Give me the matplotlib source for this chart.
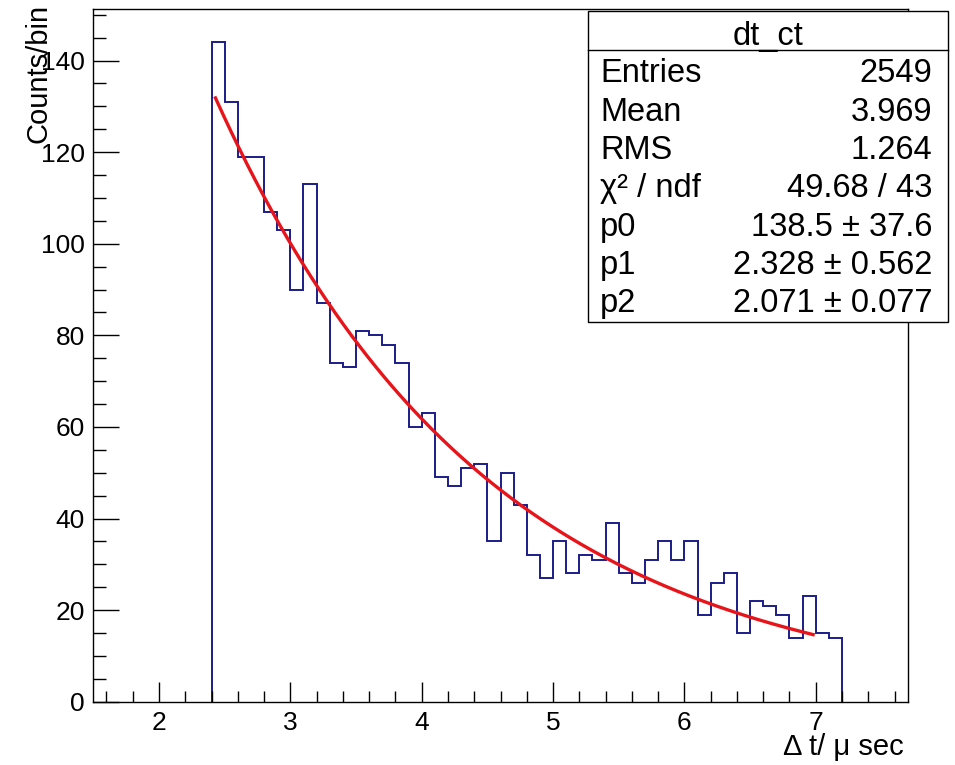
import numpy as np
import matplotlib
matplotlib.use("Agg")
import matplotlib.pyplot as plt
from matplotlib.ticker import MultipleLocator

plt.rcParams['font.family'] = ['Liberation Sans', 'DejaVu Sans']

# histogram dt_ct : 48 bins of 0.1 from 2.4
bin_lo = 2.4
bin_width = 0.1
counts = [144, 131, 119, 119, 107, 103, 90, 113, 87, 74,
          73, 81, 80, 78, 74, 60, 63, 49, 47, 51,
          52, 35, 50, 43, 32, 27, 35, 28, 32, 31,
          39, 28, 26, 31, 35, 31, 35, 19, 26, 28,
          15, 22, 21, 19, 14, 23, 15, 14]

# fit  p0*exp(-(x-p1)/p2)
p0, p1, p2 = 138.5, 2.328, 2.071
fit_lo, fit_hi = 2.43, 6.98

stat_names = ["Entries", "Mean", "RMS", "χ² / ndf", "p0", "p1", "p2"]
stat_values = ["2549", "3.969", "1.264", "49.68 / 43",
               "138.5 ± 37.6", "2.328 ± 0.562", "2.071 ± 0.077"]

W, H = 955, 765
fig = plt.figure(figsize=(W / 100, H / 100), dpi=100)
ax = fig.add_axes([93.3 / W, 63.3 / H, 814.4 / W, 692.4 / H])

edges = bin_lo + bin_width * np.arange(len(counts) + 1)
ax.stairs(counts, edges, baseline=0, color="#1c1c8a", lw=1.4)

xf = np.linspace(fit_lo, fit_hi, 300)
ax.plot(xf, p0 * np.exp(-(xf - p1) / p2), color="#e8141a", lw=2.4)

ax.set_xlim(1.5, 7.7)
ax.set_ylim(0, max(counts) * 1.05)

ax.xaxis.set_major_locator(MultipleLocator(1))
ax.xaxis.set_minor_locator(MultipleLocator(0.2))
ax.yaxis.set_major_locator(MultipleLocator(20))
ax.yaxis.set_minor_locator(MultipleLocator(5))
ax.tick_params(axis="both", which="both", direction="in", width=1.0, colors="black")
ax.tick_params(axis="x", which="major", length=14.4, pad=7, labelsize=19)
ax.tick_params(axis="x", which="minor", length=7.9)
ax.tick_params(axis="y", which="major", length=18.7, pad=6, labelsize=19)
ax.tick_params(axis="y", which="minor", length=9.4)
for s in ax.spines.values():
    s.set_linewidth(1.0)

# axis titles
fig.text(39 / W, 1 - 4 / H, "Counts/bin", rotation=90, ha="center", va="top", fontsize=21)
fig.text(904 / W, 1 - 747 / H, "Δ t/ μ sec", ha="right", va="center", fontsize=21)

# stats box
bx0, bx1, by0, by1, ysep = 588, 948, 11, 322, 50
box = plt.Rectangle((bx0 / W, 1 - by1 / H), (bx1 - bx0) / W, (by1 - by0) / H,
                    transform=fig.transFigure, facecolor="white", edgecolor="black",
                    lw=1.0, zorder=5)
fig.add_artist(box)
fig.add_artist(plt.Line2D([bx0 / W, bx1 / W], [1 - ysep / H, 1 - ysep / H],
                          transform=fig.transFigure, color="black", lw=1.0, zorder=6))
fig.text((bx0 + bx1) / 2 / W, 1 - 36 / H, "dt_ct", ha="center", va="center",
         fontsize=23.5, zorder=7)
for i, (n, v) in enumerate(zip(stat_names, stat_values)):
    yc = 1 - (74 + 38.3 * i) / H
    fig.text(600 / W, yc, n, ha="left", va="center", fontsize=23.5, zorder=7)
    fig.text(932 / W, yc, v, ha="right", va="center", fontsize=23.5, zorder=7)

fig.savefig("out.png", dpi=100)
